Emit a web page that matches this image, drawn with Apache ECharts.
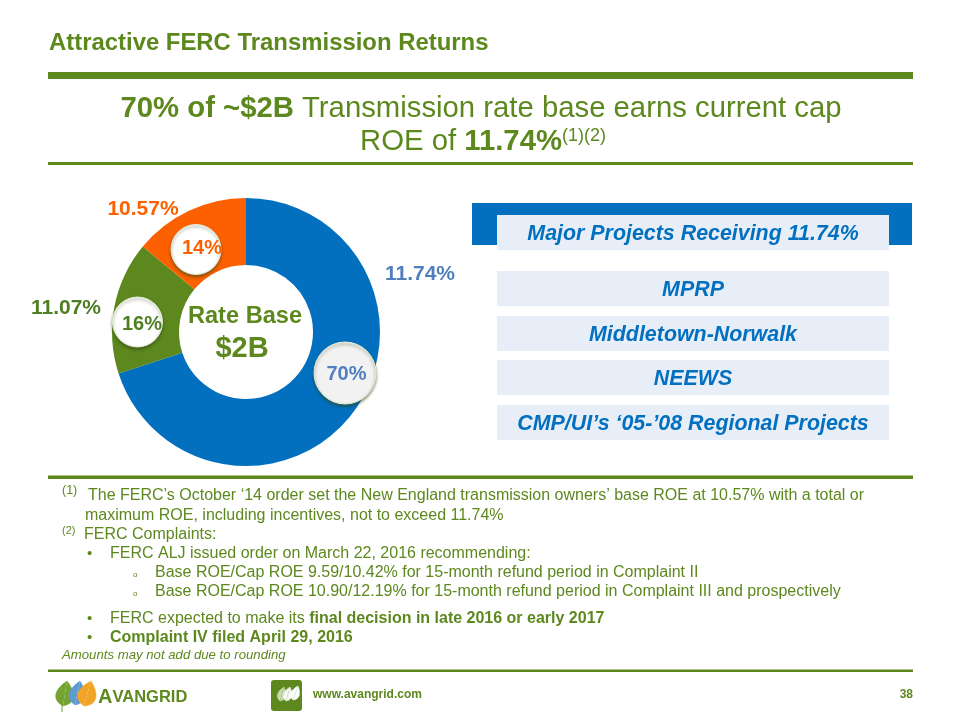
<!DOCTYPE html>
<html><head><meta charset="utf-8">
<style>html,body{margin:0;padding:0;background:#fff}#c{width:960px;height:720px}</style>
<script src="https://cdn.jsdelivr.net/npm/echarts@6/dist/echarts.min.js"></script>
</head><body><div id="c"></div>
<script>
var categories = ['11.74%', '11.07%', '10.57%'];
var shares = [70, 16, 14];
var projects = ['MPRP', 'Middletown-Norwalk', 'NEEWS', 'CMP/UI\u2019s \u201805-\u201908 Regional Projects'];

var GREEN = '#5c881e', BLUE = '#0270bf', ORANGE = '#fd6000', SLATE = '#4f7fbd', DARK = '#4e7f22', FONT = '"Liberation Sans", Arial, sans-serif';
var chart = echarts.init(document.getElementById('c'));

function txt(x, y, text, size, color, opt) {
  opt = opt || {};
  return { type: 'text', z: opt.z || 10, x: x, y: y, style: {
    text: text, fill: color, font: (opt.italic ? 'italic ' : '') + (opt.bold ? 'bold ' : '') + size + 'px ' + FONT,
    align: opt.align || 'left', verticalAlign: 'middle', rich: opt.rich } };
}
function rect(x, y, w, h, fill, z) { return { type: 'rect', z: z || 5, shape: { x: x, y: y, width: w, height: h }, style: { fill: fill } }; }
function bubble(x, y, r, tx, ty, label, color, fill) {
  return [
    { type: 'circle', z: 8, shape: { cx: x, cy: y, r: r }, style: { fill: fill, stroke: '#e4ebd8', lineWidth: 1, shadowBlur: 3, shadowOffsetX: 0, shadowOffsetY: 2, shadowColor: 'rgba(50,70,20,0.6)' } },
    txt(tx, ty, label, 20, color, { bold: true, align: 'center', z: 9 })
  ];
}
var s = function (size, bold, italic, color, extra) {
  var o = { fontFamily: 'Liberation Sans', fontSize: size, fontWeight: bold ? 'bold' : 'normal', fontStyle: italic ? 'italic' : 'normal', color: color || GREEN };
  for (var k in (extra || {})) o[k] = extra[k];
  return o;
};

var g = [];
// header
g.push(txt(49, 43, 'Attractive FERC Transmission Returns', 23.9, GREEN, { bold: true }));
g.push(rect(48, 72, 865, 7, GREEN));
g.push(txt(481, 109, '{b|70% of ~$2B} {n|Transmission rate base earns current cap}', 29.3, GREEN, { align: 'center', rich: { b: s(29.3, true), n: s(29.3) } }));
g.push(txt(483, 142, '{n|ROE of }{b|11.74%}{sup|(1)(2)}', 29.3, GREEN, { align: 'center', rich: { b: s(29.3, true), n: s(29.3), sup: s(18, false, false, GREEN, { verticalAlign: 'top', padding: [0, 0, 12, 0] }) } }));
g.push(rect(48, 162, 865, 3, GREEN));

// donut labels
g.push(txt(420, 274, categories[0], 21, SLATE, { bold: true, align: 'center' }));
g.push(txt(66, 308, categories[1], 21, DARK, { bold: true, align: 'center' }));
g.push(txt(143, 209, categories[2], 21, ORANGE, { bold: true, align: 'center' }));
g = g.concat(bubble(345, 373, 31, 346.5, 374, shares[0] + '%', SLATE, '#f2f2f2'));
g = g.concat(bubble(137.5, 322, 25, 142, 324, shares[1] + '%', DARK, '#ffffff'));
g = g.concat(bubble(196, 249.5, 25, 202, 248, shares[2] + '%', ORANGE, '#ffffff'));
g.push(txt(245, 316, 'Rate Base', 23.6, GREEN, { bold: true, align: 'center' }));
g.push(txt(242, 349, '$2B', 29, GREEN, { bold: true, align: 'center' }));

// right-hand panel
g.push(rect(472, 203, 440, 42, BLUE));
g.push(rect(497, 215, 392, 35, '#e7eef8', 6));
g.push(txt(693, 234, 'Major Projects Receiving 11.74%', 21.4, BLUE, { bold: true, italic: true, align: 'center', z: 7 }));
[271, 316, 360, 405].forEach(function (y, i) {
  g.push(rect(497, y, 392, 35, '#e7eef8', 6));
  g.push(txt(693, y + 19, projects[i], 21.4, BLUE, { bold: true, italic: true, align: 'center', z: 7 }));
});

// footnotes
g.push(rect(48, 475.5, 865, 3.5, GREEN));
g.push(txt(62, 491, '(1)', 12.5, GREEN));
g.push(txt(88, 496, 'The FERC\u2019s October \u201814 order set the New England transmission owners\u2019 base ROE at 10.57% with a total or', 16, GREEN));
g.push(txt(85, 516, 'maximum ROE, including incentives, not to exceed 11.74%', 16, GREEN));
g.push(txt(62, 531, '(2)', 11, GREEN));
g.push(txt(84, 535, 'FERC Complaints:', 16, GREEN));
g.push(txt(87, 554, '\u2022', 15, GREEN));
g.push(txt(110, 554, 'FERC ALJ issued order on March 22, 2016 recommending:', 16, GREEN));
g.push(txt(133, 575, 'o', 8, GREEN));
g.push(txt(155, 573, 'Base ROE/Cap ROE 9.59/10.42% for 15-month refund period in Complaint II', 16, GREEN));
g.push(txt(133, 594, 'o', 8, GREEN));
g.push(txt(155, 592, 'Base ROE/Cap ROE 10.90/12.19% for 15-month refund period in Complaint III and prospectively', 16, GREEN));
g.push(txt(87, 619, '\u2022', 15, GREEN));
g.push(txt(110, 619, '{n|FERC expected to make its }{b|final decision in late 2016 or early 2017}', 16, GREEN, { rich: { n: s(16), b: s(16, true) } }));
g.push(txt(87, 638, '\u2022', 15, GREEN));
g.push(txt(110, 638, 'Complaint IV filed April 29, 2016', 16, GREEN, { bold: true }));
g.push(txt(62, 655, 'Amounts may not add due to rounding', 13.2, GREEN, { italic: true }));
g.push(rect(48, 669.5, 865, 2.5, GREEN));

// footer
function leaf(bx, by, tx, ty, bulge, fill) {
  var dx = tx - bx, dy = ty - by, nx = -dy, ny = dx;
  function side(k) {
    return { type: 'bezierCurve', z: 6, shape: {
      x1: bx, y1: by, x2: tx, y2: ty,
      cpx1: bx + dx * 0.2 + nx * bulge * k, cpy1: by + dy * 0.2 + ny * bulge * k,
      cpx2: bx + dx * 0.65 + nx * bulge * k * 0.7, cpy2: by + dy * 0.65 + ny * bulge * k * 0.7
    }, style: { fill: fill, stroke: fill, lineWidth: 0.5 } };
  }
  return [side(1), side(-1)];
}
g = g.concat(leaf(63, 706, 67, 681, 0.55, '#74a332'));
g = g.concat(leaf(75, 705, 80, 681, 0.5, '#5d9bd0'));
g = g.concat(leaf(84, 706, 91, 681, 0.55, '#f2a427'));
g.push({ type: 'line', z: 7, shape: { x1: 62, y1: 702, x2: 62, y2: 712 }, style: { stroke: '#74a332', lineWidth: 1 } });
g.push(txt(98, 697, '{a|A}{b|VANGRID}', 20, GREEN, { rich: { a: s(20, true), b: s(16.5, true) } }));
g.push({ type: 'rect', z: 5, shape: { x: 271, y: 680, width: 31, height: 31, r: 3 }, style: { fill: GREEN } });
g = g.concat(leaf(280, 701, 284, 687, 0.45, '#c9d8ae'));
g = g.concat(leaf(286, 701, 290, 687, 0.45, '#f4f7ee'));
g = g.concat(leaf(293, 700, 298, 686, 0.45, '#ffffff'));
g.push(txt(313, 695, 'www.avangrid.com', 12, GREEN, { bold: true }));
g.push(txt(913, 695, '38', 12, GREEN, { bold: true, align: 'right' }));

chart.setOption({
  animation: false,
  graphic: { elements: g },
  series: [{
    type: 'pie', center: [246, 332], radius: [67, 134], startAngle: 90, clockwise: true,
    label: { show: false }, labelLine: { show: false }, silent: true,
    data: categories.map(function (c, i) {
      return { name: c, value: shares[i], itemStyle: { color: [BLUE, GREEN, ORANGE][i] } };
    })
  }]
});
</script></body></html>
